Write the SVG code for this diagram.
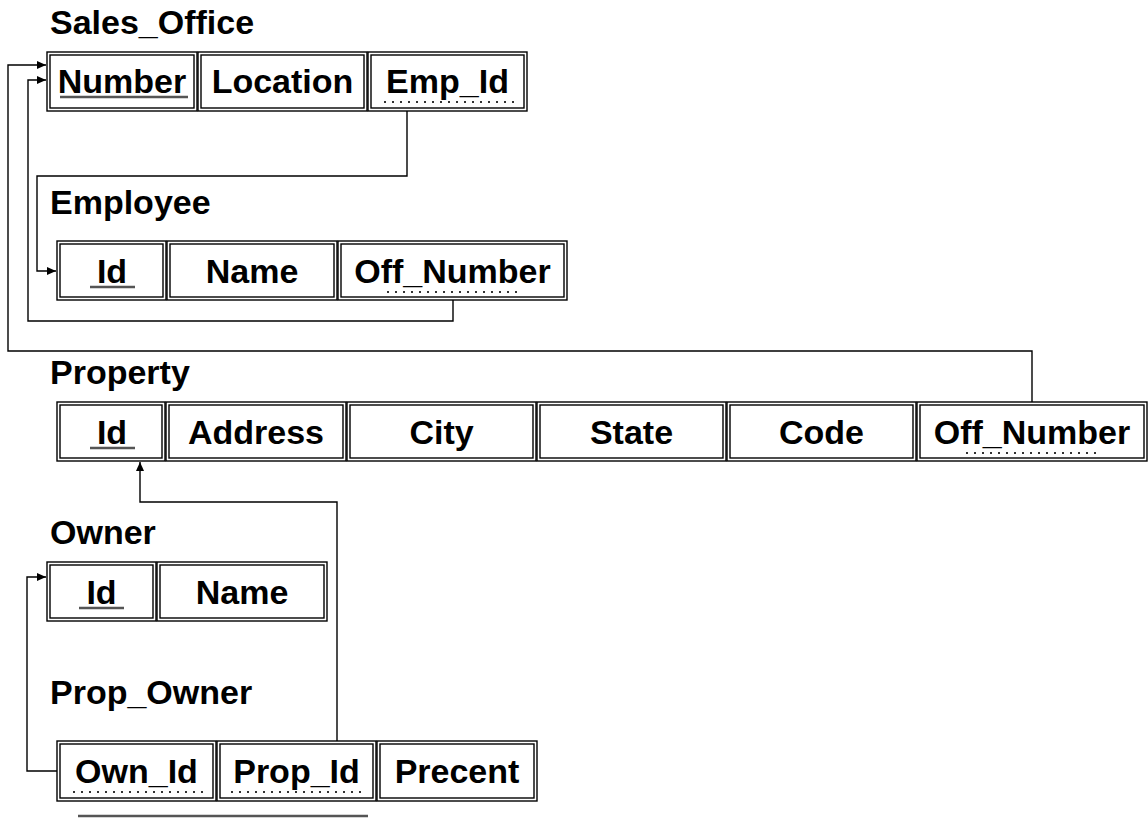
<svg xmlns="http://www.w3.org/2000/svg" width="1148" height="823" viewBox="0 0 1148 823">
<style>
.bg{fill:#fff}
.o{fill:#fff;stroke:#000;stroke-width:1.4}
.i{fill:none;stroke:#000;stroke-width:1.4}
.t{font-family:"Liberation Sans",Arial,sans-serif;font-weight:bold;font-size:34px;fill:#000}
.c{text-anchor:middle}
.pk{stroke:#555;stroke-width:2.5;fill:none}
.fk{stroke:#333;stroke-width:2;stroke-dasharray:2 6;fill:none}
.ln{fill:none;stroke:#000;stroke-width:1.4}
</style>
<defs>
<marker id="ah" markerWidth="10" markerHeight="8" refX="9" refY="4" orient="auto" markerUnits="userSpaceOnUse">
<path d="M0,0 L9,4 L0,8 Z" fill="#000"/>
</marker>
</defs>
<rect class="bg" x="0" y="0" width="1148" height="823"/>

<g id="connectors">
<path class="ln" d="M1032,402 V351 H8 V65 H46" marker-end="url(#ah)"/>
<path class="ln" d="M453,300 V321 H28 V80 H46" marker-end="url(#ah)"/>
<path class="ln" d="M407,111 V176 H37 V271 H56" marker-end="url(#ah)"/>
<path class="ln" d="M337,741 V502 H140 V462" marker-end="url(#ah)"/>
<path class="ln" d="M57,771 H27 V577 H46" marker-end="url(#ah)"/>
</g>

<g id="sales_office">
<text class="t" x="50" y="34">Sales_Office</text>
<rect class="o" x="47" y="52" width="150" height="59"/><rect class="i" x="50" y="55" width="144" height="53"/>
<rect class="o" x="198" y="52" width="169" height="59"/><rect class="i" x="201" y="55" width="163" height="53"/>
<rect class="o" x="368" y="52" width="159" height="59"/><rect class="i" x="371" y="55" width="153" height="53"/>
<text class="t c" x="122" y="93">Number</text>
<text class="t c" x="282.5" y="93">Location</text>
<text class="t c" x="447.5" y="93">Emp_Id</text>
<line class="pk" x1="60" y1="97" x2="188" y2="97"/>
<line class="fk" x1="384" y1="102" x2="514" y2="102"/>
</g>

<g id="employee">
<text class="t" x="50" y="214">Employee</text>
<rect class="o" x="57" y="241" width="109" height="59"/><rect class="i" x="60" y="244" width="103" height="53"/>
<rect class="o" x="167" y="241" width="170" height="59"/><rect class="i" x="170" y="244" width="164" height="53"/>
<rect class="o" x="338" y="241" width="229" height="59"/><rect class="i" x="341" y="244" width="223" height="53"/>
<text class="t c" x="112" y="283">Id</text>
<text class="t c" x="252" y="283">Name</text>
<text class="t c" x="452.5" y="283">Off_Number</text>
<line class="pk" x1="90" y1="287" x2="135" y2="287"/>
<line class="fk" x1="387" y1="292" x2="519" y2="292"/>
</g>

<g id="property">
<text class="t" x="50" y="384">Property</text>
<rect class="o" x="57" y="402" width="108" height="59"/><rect class="i" x="60" y="405" width="102" height="53"/>
<rect class="o" x="166" y="402" width="180" height="59"/><rect class="i" x="169" y="405" width="174" height="53"/>
<rect class="o" x="347" y="402" width="189" height="59"/><rect class="i" x="350" y="405" width="183" height="53"/>
<rect class="o" x="537" y="402" width="189" height="59"/><rect class="i" x="540" y="405" width="183" height="53"/>
<rect class="o" x="727" y="402" width="189" height="59"/><rect class="i" x="730" y="405" width="183" height="53"/>
<rect class="o" x="917" y="402" width="230" height="59"/><rect class="i" x="920" y="405" width="224" height="53"/>
<text class="t c" x="112" y="444">Id</text>
<text class="t c" x="256" y="444">Address</text>
<text class="t c" x="441.5" y="444">City</text>
<text class="t c" x="631.5" y="444">State</text>
<text class="t c" x="821.5" y="444">Code</text>
<text class="t c" x="1032" y="444">Off_Number</text>
<line class="pk" x1="90" y1="448" x2="135" y2="448"/>
<line class="fk" x1="966" y1="453" x2="1098" y2="453"/>
</g>

<g id="owner">
<text class="t" x="50" y="544">Owner</text>
<rect class="o" x="47" y="562" width="109" height="59"/><rect class="i" x="50" y="565" width="103" height="53"/>
<rect class="o" x="157" y="562" width="170" height="59"/><rect class="i" x="160" y="565" width="164" height="53"/>
<text class="t c" x="101.5" y="604">Id</text>
<text class="t c" x="242" y="604">Name</text>
<line class="pk" x1="79" y1="608" x2="124" y2="608"/>
</g>

<g id="prop_owner">
<text class="t" x="50" y="704">Prop_Owner</text>
<rect class="o" x="57" y="741" width="159" height="60"/><rect class="i" x="60" y="744" width="153" height="54"/>
<rect class="o" x="217" y="741" width="159" height="60"/><rect class="i" x="220" y="744" width="153" height="54"/>
<rect class="o" x="377" y="741" width="160" height="60"/><rect class="i" x="380" y="744" width="154" height="54"/>
<text class="t c" x="136.5" y="783">Own_Id</text>
<text class="t c" x="296.5" y="783">Prop_Id</text>
<text class="t c" x="457" y="783">Precent</text>
<line class="fk" x1="73" y1="792" x2="205" y2="792"/>
<line class="fk" x1="231" y1="792" x2="363" y2="792"/>
<line class="pk" x1="78" y1="816" x2="368" y2="816"/>
</g>
</svg>
